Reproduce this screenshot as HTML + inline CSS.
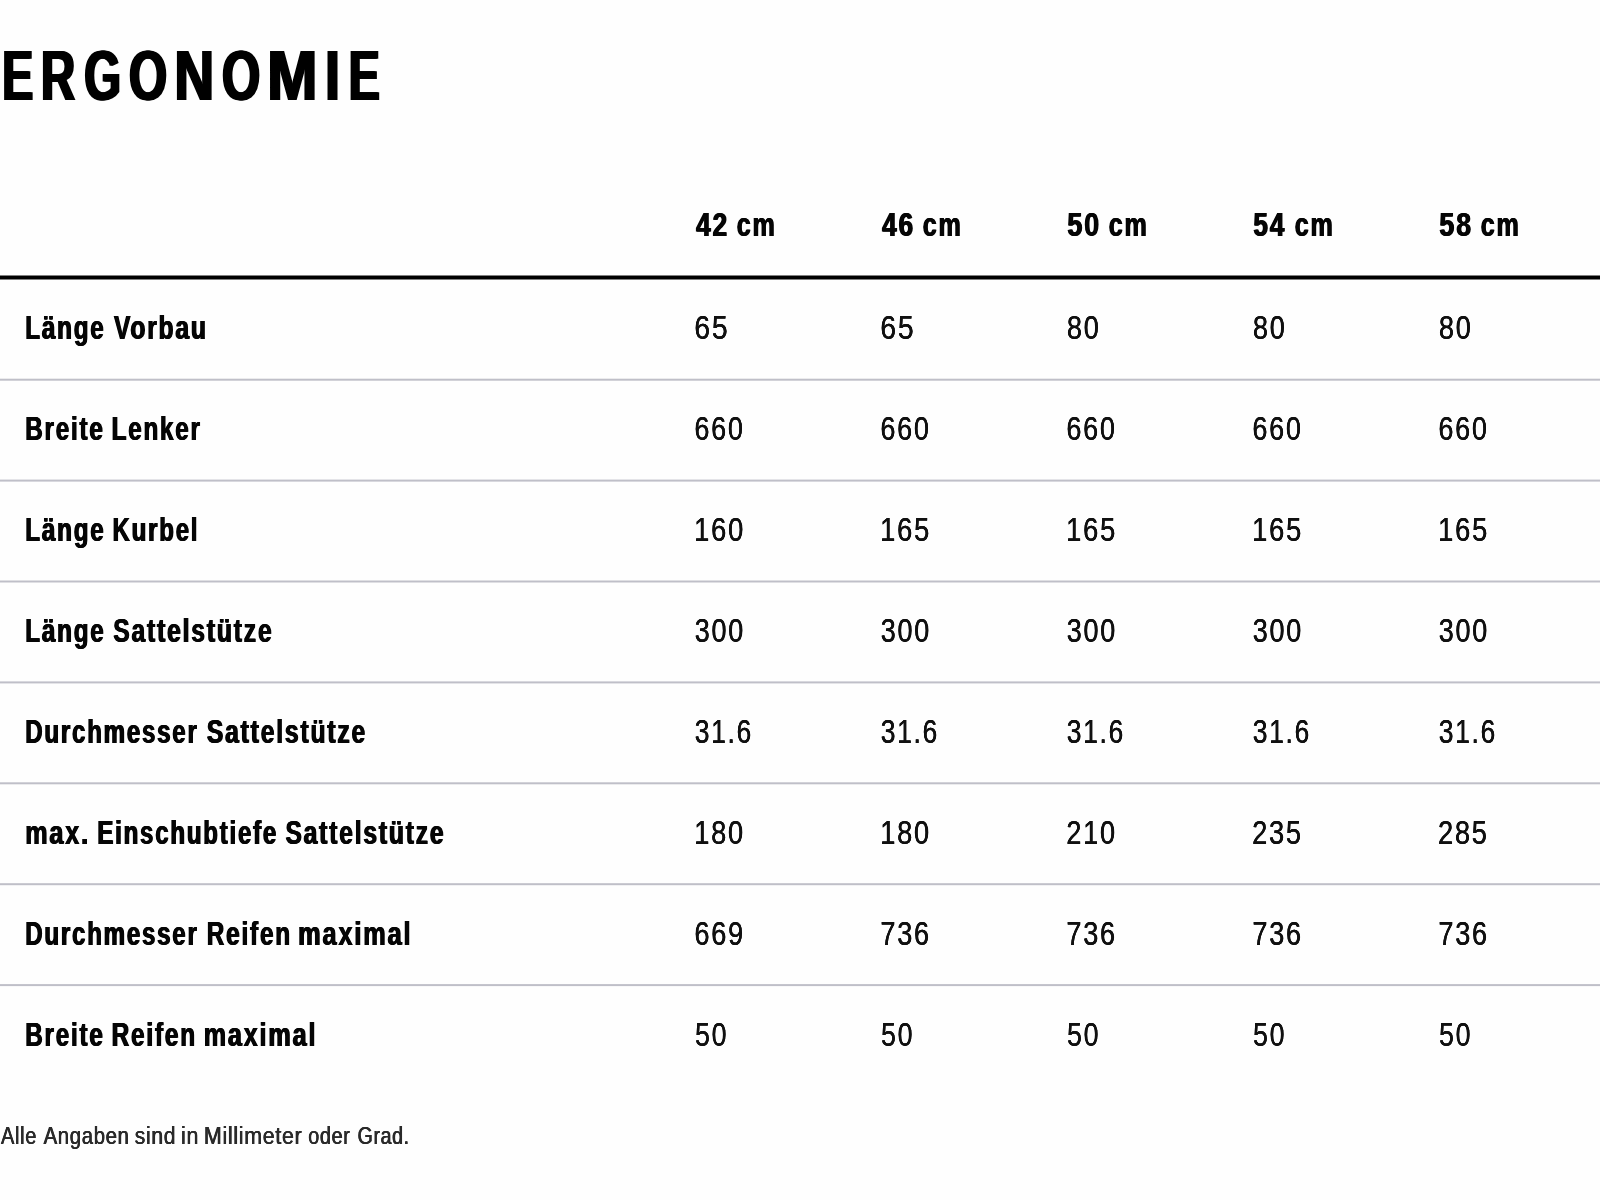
<!DOCTYPE html>
<html lang="de"><head><meta charset="utf-8"><title>Ergonomie</title>
<style>
html,body{margin:0;padding:0;background:#fff;}
body{width:1600px;height:1200px;overflow:hidden;position:relative;font-family:"Liberation Sans",sans-serif;}
svg{position:absolute;left:0;top:0;display:block;will-change:transform}
text{font-family:"Liberation Sans",sans-serif;}
.b{font-weight:700}
.r{font-weight:400}
</style></head><body>
<svg width="1600" height="1200" viewBox="0 0 1600 1200" role="img" aria-label="Ergonomie Tabelle">
<rect x="0" y="0" width="1600" height="1200" fill="#fefefe"/>
<rect x="0" y="275.5" width="1600" height="4" fill="#000"/>
<rect x="0" y="378.7" width="1600" height="2" fill="#bfbfc8"/>
<rect x="0" y="479.6" width="1600" height="2" fill="#bfbfc8"/>
<rect x="0" y="580.5" width="1600" height="2" fill="#bfbfc8"/>
<rect x="0" y="681.4" width="1600" height="2" fill="#bfbfc8"/>
<rect x="0" y="782.3" width="1600" height="2" fill="#bfbfc8"/>
<rect x="0" y="883.2" width="1600" height="2" fill="#bfbfc8"/>
<rect x="0" y="984.1" width="1600" height="2" fill="#bfbfc8"/>
<text id="h1" class="b" y="100.25" font-size="71.2" fill="#000"><tspan x="2.14" textLength="30.98" lengthAdjust="spacingAndGlyphs">E</tspan><tspan x="41.08" textLength="34.22" lengthAdjust="spacingAndGlyphs">R</tspan><tspan x="84.29" textLength="36.76" lengthAdjust="spacingAndGlyphs">G</tspan><tspan x="128.97" textLength="38.12" lengthAdjust="spacingAndGlyphs">O</tspan><tspan x="174.48" textLength="39.57" lengthAdjust="spacingAndGlyphs">N</tspan><tspan x="222.01" textLength="38.23" lengthAdjust="spacingAndGlyphs">O</tspan><tspan x="267.22" textLength="50.18" lengthAdjust="spacingAndGlyphs">M</tspan><tspan x="325.25" textLength="14.50" lengthAdjust="spacingAndGlyphs">I</tspan><tspan x="348.74" textLength="31.04" lengthAdjust="spacingAndGlyphs">E</tspan></text><use href="#h1" x="-1.25"/><use href="#h1" x="1.25"/>
<text id="hd0" class="b" y="236.40" font-size="33.8" fill="#050505" letter-spacing="2.5"><tspan x="696.15" textLength="32.95" lengthAdjust="spacingAndGlyphs">42</tspan> <tspan x="736.72" textLength="40.00" lengthAdjust="spacingAndGlyphs">cm</tspan></text><use href="#hd0" x="-0.55"/><use href="#hd0" x="0.55"/>
<text id="hd1" class="b" y="236.40" font-size="33.8" fill="#050505" letter-spacing="2.5"><tspan x="882.15" textLength="32.92" lengthAdjust="spacingAndGlyphs">46</tspan> <tspan x="922.72" textLength="40.00" lengthAdjust="spacingAndGlyphs">cm</tspan></text><use href="#hd1" x="-0.55"/><use href="#hd1" x="0.55"/>
<text id="hd2" class="b" y="236.40" font-size="33.8" fill="#050505" letter-spacing="2.5"><tspan x="1067.41" textLength="33.77" lengthAdjust="spacingAndGlyphs">50</tspan> <tspan x="1108.72" textLength="40.00" lengthAdjust="spacingAndGlyphs">cm</tspan></text><use href="#hd2" x="-0.55"/><use href="#hd2" x="0.55"/>
<text id="hd3" class="b" y="236.40" font-size="33.8" fill="#050505" letter-spacing="2.5"><tspan x="1253.43" textLength="32.83" lengthAdjust="spacingAndGlyphs">54</tspan> <tspan x="1294.72" textLength="40.00" lengthAdjust="spacingAndGlyphs">cm</tspan></text><use href="#hd3" x="-0.55"/><use href="#hd3" x="0.55"/>
<text id="hd4" class="b" y="236.40" font-size="33.8" fill="#050505" letter-spacing="2.5"><tspan x="1439.41" textLength="33.66" lengthAdjust="spacingAndGlyphs">58</tspan> <tspan x="1480.72" textLength="40.00" lengthAdjust="spacingAndGlyphs">cm</tspan></text><use href="#hd4" x="-0.55"/><use href="#hd4" x="0.55"/>
<text id="lb0" class="b" y="339.40" font-size="33.8" fill="#050505" letter-spacing="2.5"><tspan x="25.24" textLength="80.30" lengthAdjust="spacingAndGlyphs">Länge</tspan> <tspan x="113.96" textLength="93.77" lengthAdjust="spacingAndGlyphs">Vorbau</tspan></text><use href="#lb0" x="-0.55"/><use href="#lb0" x="0.55"/>
<text id="v0_0" class="r" x="694.34" y="339.40" font-size="34.0" fill="#101010" letter-spacing="2.2" textLength="35.13" lengthAdjust="spacingAndGlyphs">65</text><use href="#v0_0" x="-0.2"/><use href="#v0_0" x="0.2"/>
<text id="v0_1" class="r" x="880.34" y="339.40" font-size="34.0" fill="#101010" letter-spacing="2.2" textLength="35.13" lengthAdjust="spacingAndGlyphs">65</text><use href="#v0_1" x="-0.2"/><use href="#v0_1" x="0.2"/>
<text id="v0_2" class="r" x="1066.91" y="339.40" font-size="34.0" fill="#101010" letter-spacing="2.2" textLength="33.64" lengthAdjust="spacingAndGlyphs">80</text><use href="#v0_2" x="-0.2"/><use href="#v0_2" x="0.2"/>
<text id="v0_3" class="r" x="1252.91" y="339.40" font-size="34.0" fill="#101010" letter-spacing="2.2" textLength="33.64" lengthAdjust="spacingAndGlyphs">80</text><use href="#v0_3" x="-0.2"/><use href="#v0_3" x="0.2"/>
<text id="v0_4" class="r" x="1438.91" y="339.40" font-size="34.0" fill="#101010" letter-spacing="2.2" textLength="33.64" lengthAdjust="spacingAndGlyphs">80</text><use href="#v0_4" x="-0.2"/><use href="#v0_4" x="0.2"/>
<text id="lb1" class="b" y="440.30" font-size="33.8" fill="#050505" letter-spacing="2.5"><tspan x="25.24" textLength="79.37" lengthAdjust="spacingAndGlyphs">Breite</tspan> <tspan x="111.64" textLength="90.16" lengthAdjust="spacingAndGlyphs">Lenker</tspan></text><use href="#lb1" x="-0.55"/><use href="#lb1" x="0.55"/>
<text id="v1_0" class="r" x="694.41" y="440.30" font-size="34.0" fill="#101010" letter-spacing="2.2" textLength="50.27" lengthAdjust="spacingAndGlyphs">660</text><use href="#v1_0" x="-0.2"/><use href="#v1_0" x="0.2"/>
<text id="v1_1" class="r" x="880.41" y="440.30" font-size="34.0" fill="#101010" letter-spacing="2.2" textLength="50.27" lengthAdjust="spacingAndGlyphs">660</text><use href="#v1_1" x="-0.2"/><use href="#v1_1" x="0.2"/>
<text id="v1_2" class="r" x="1066.41" y="440.30" font-size="34.0" fill="#101010" letter-spacing="2.2" textLength="50.27" lengthAdjust="spacingAndGlyphs">660</text><use href="#v1_2" x="-0.2"/><use href="#v1_2" x="0.2"/>
<text id="v1_3" class="r" x="1252.41" y="440.30" font-size="34.0" fill="#101010" letter-spacing="2.2" textLength="50.27" lengthAdjust="spacingAndGlyphs">660</text><use href="#v1_3" x="-0.2"/><use href="#v1_3" x="0.2"/>
<text id="v1_4" class="r" x="1438.41" y="440.30" font-size="34.0" fill="#101010" letter-spacing="2.2" textLength="50.27" lengthAdjust="spacingAndGlyphs">660</text><use href="#v1_4" x="-0.2"/><use href="#v1_4" x="0.2"/>
<text id="lb2" class="b" y="541.20" font-size="33.8" fill="#050505" letter-spacing="2.5"><tspan x="25.24" textLength="80.30" lengthAdjust="spacingAndGlyphs">Länge</tspan> <tspan x="112.55" textLength="86.73" lengthAdjust="spacingAndGlyphs">Kurbel</tspan></text><use href="#lb2" x="-0.55"/><use href="#lb2" x="0.55"/>
<text id="v2_0" class="r" x="694.08" y="541.20" font-size="34.0" fill="#101010" letter-spacing="2.2" textLength="51.04" lengthAdjust="spacingAndGlyphs">160</text><use href="#v2_0" x="-0.2"/><use href="#v2_0" x="0.2"/>
<text id="v2_1" class="r" x="880.08" y="541.20" font-size="34.0" fill="#101010" letter-spacing="2.2" textLength="51.06" lengthAdjust="spacingAndGlyphs">165</text><use href="#v2_1" x="-0.2"/><use href="#v2_1" x="0.2"/>
<text id="v2_2" class="r" x="1066.08" y="541.20" font-size="34.0" fill="#101010" letter-spacing="2.2" textLength="51.06" lengthAdjust="spacingAndGlyphs">165</text><use href="#v2_2" x="-0.2"/><use href="#v2_2" x="0.2"/>
<text id="v2_3" class="r" x="1252.08" y="541.20" font-size="34.0" fill="#101010" letter-spacing="2.2" textLength="51.06" lengthAdjust="spacingAndGlyphs">165</text><use href="#v2_3" x="-0.2"/><use href="#v2_3" x="0.2"/>
<text id="v2_4" class="r" x="1438.08" y="541.20" font-size="34.0" fill="#101010" letter-spacing="2.2" textLength="51.06" lengthAdjust="spacingAndGlyphs">165</text><use href="#v2_4" x="-0.2"/><use href="#v2_4" x="0.2"/>
<text id="lb3" class="b" y="642.10" font-size="33.8" fill="#050505" letter-spacing="2.5"><tspan x="25.24" textLength="80.30" lengthAdjust="spacingAndGlyphs">Länge</tspan> <tspan x="113.25" textLength="160.23" lengthAdjust="spacingAndGlyphs">Sattelstütze</tspan></text><use href="#lb3" x="-0.55"/><use href="#lb3" x="0.55"/>
<text id="v3_0" class="r" x="694.81" y="642.10" font-size="34.0" fill="#101010" letter-spacing="2.2" textLength="50.16" lengthAdjust="spacingAndGlyphs">300</text><use href="#v3_0" x="-0.2"/><use href="#v3_0" x="0.2"/>
<text id="v3_1" class="r" x="880.81" y="642.10" font-size="34.0" fill="#101010" letter-spacing="2.2" textLength="50.16" lengthAdjust="spacingAndGlyphs">300</text><use href="#v3_1" x="-0.2"/><use href="#v3_1" x="0.2"/>
<text id="v3_2" class="r" x="1066.81" y="642.10" font-size="34.0" fill="#101010" letter-spacing="2.2" textLength="50.16" lengthAdjust="spacingAndGlyphs">300</text><use href="#v3_2" x="-0.2"/><use href="#v3_2" x="0.2"/>
<text id="v3_3" class="r" x="1252.81" y="642.10" font-size="34.0" fill="#101010" letter-spacing="2.2" textLength="50.16" lengthAdjust="spacingAndGlyphs">300</text><use href="#v3_3" x="-0.2"/><use href="#v3_3" x="0.2"/>
<text id="v3_4" class="r" x="1438.81" y="642.10" font-size="34.0" fill="#101010" letter-spacing="2.2" textLength="50.16" lengthAdjust="spacingAndGlyphs">300</text><use href="#v3_4" x="-0.2"/><use href="#v3_4" x="0.2"/>
<text id="lb4" class="b" y="743.00" font-size="33.8" fill="#050505" letter-spacing="2.5"><tspan x="25.25" textLength="173.39" lengthAdjust="spacingAndGlyphs">Durchmesser</tspan> <tspan x="206.85" textLength="160.23" lengthAdjust="spacingAndGlyphs">Sattelstütze</tspan></text><use href="#lb4" x="-0.55"/><use href="#lb4" x="0.55"/>
<text id="v4_0" class="r" x="694.73" y="743.00" font-size="34.0" fill="#101010" letter-spacing="2.2" textLength="58.27" lengthAdjust="spacingAndGlyphs">31.6</text><use href="#v4_0" x="-0.2"/><use href="#v4_0" x="0.2"/>
<text id="v4_1" class="r" x="880.73" y="743.00" font-size="34.0" fill="#101010" letter-spacing="2.2" textLength="58.27" lengthAdjust="spacingAndGlyphs">31.6</text><use href="#v4_1" x="-0.2"/><use href="#v4_1" x="0.2"/>
<text id="v4_2" class="r" x="1066.73" y="743.00" font-size="34.0" fill="#101010" letter-spacing="2.2" textLength="58.27" lengthAdjust="spacingAndGlyphs">31.6</text><use href="#v4_2" x="-0.2"/><use href="#v4_2" x="0.2"/>
<text id="v4_3" class="r" x="1252.73" y="743.00" font-size="34.0" fill="#101010" letter-spacing="2.2" textLength="58.27" lengthAdjust="spacingAndGlyphs">31.6</text><use href="#v4_3" x="-0.2"/><use href="#v4_3" x="0.2"/>
<text id="v4_4" class="r" x="1438.73" y="743.00" font-size="34.0" fill="#101010" letter-spacing="2.2" textLength="58.27" lengthAdjust="spacingAndGlyphs">31.6</text><use href="#v4_4" x="-0.2"/><use href="#v4_4" x="0.2"/>
<text id="lb5" class="b" y="843.90" font-size="33.8" fill="#050505" letter-spacing="2.5"><tspan x="25.19" textLength="64.81" lengthAdjust="spacingAndGlyphs">max.</tspan> <tspan x="97.35" textLength="180.73" lengthAdjust="spacingAndGlyphs">Einschubtiefe</tspan> <tspan x="285.45" textLength="159.93" lengthAdjust="spacingAndGlyphs">Sattelstütze</tspan></text><use href="#lb5" x="-0.55"/><use href="#lb5" x="0.55"/>
<text id="v5_0" class="r" x="694.30" y="843.90" font-size="34.0" fill="#101010" letter-spacing="2.2" textLength="50.60" lengthAdjust="spacingAndGlyphs">180</text><use href="#v5_0" x="-0.2"/><use href="#v5_0" x="0.2"/>
<text id="v5_1" class="r" x="880.30" y="843.90" font-size="34.0" fill="#101010" letter-spacing="2.2" textLength="50.60" lengthAdjust="spacingAndGlyphs">180</text><use href="#v5_1" x="-0.2"/><use href="#v5_1" x="0.2"/>
<text id="v5_2" class="r" x="1066.33" y="843.90" font-size="34.0" fill="#101010" letter-spacing="2.2" textLength="50.46" lengthAdjust="spacingAndGlyphs">210</text><use href="#v5_2" x="-0.2"/><use href="#v5_2" x="0.2"/>
<text id="v5_3" class="r" x="1252.13" y="843.90" font-size="34.0" fill="#101010" letter-spacing="2.2" textLength="50.69" lengthAdjust="spacingAndGlyphs">235</text><use href="#v5_3" x="-0.2"/><use href="#v5_3" x="0.2"/>
<text id="v5_4" class="r" x="1438.03" y="843.90" font-size="34.0" fill="#101010" letter-spacing="2.2" textLength="50.69" lengthAdjust="spacingAndGlyphs">285</text><use href="#v5_4" x="-0.2"/><use href="#v5_4" x="0.2"/>
<text id="lb6" class="b" y="944.80" font-size="33.8" fill="#050505" letter-spacing="2.5"><tspan x="25.25" textLength="173.39" lengthAdjust="spacingAndGlyphs">Durchmesser</tspan> <tspan x="206.73" textLength="85.26" lengthAdjust="spacingAndGlyphs">Reifen</tspan> <tspan x="298.18" textLength="114.23" lengthAdjust="spacingAndGlyphs">maximal</tspan></text><use href="#lb6" x="-0.55"/><use href="#lb6" x="0.55"/>
<text id="v6_0" class="r" x="694.40" y="944.80" font-size="34.0" fill="#101010" letter-spacing="2.2" textLength="50.54" lengthAdjust="spacingAndGlyphs">669</text><use href="#v6_0" x="-0.2"/><use href="#v6_0" x="0.2"/>
<text id="v6_1" class="r" x="880.41" y="944.80" font-size="34.0" fill="#101010" letter-spacing="2.2" textLength="50.42" lengthAdjust="spacingAndGlyphs">736</text><use href="#v6_1" x="-0.2"/><use href="#v6_1" x="0.2"/>
<text id="v6_2" class="r" x="1066.41" y="944.80" font-size="34.0" fill="#101010" letter-spacing="2.2" textLength="50.42" lengthAdjust="spacingAndGlyphs">736</text><use href="#v6_2" x="-0.2"/><use href="#v6_2" x="0.2"/>
<text id="v6_3" class="r" x="1252.41" y="944.80" font-size="34.0" fill="#101010" letter-spacing="2.2" textLength="50.42" lengthAdjust="spacingAndGlyphs">736</text><use href="#v6_3" x="-0.2"/><use href="#v6_3" x="0.2"/>
<text id="v6_4" class="r" x="1438.41" y="944.80" font-size="34.0" fill="#101010" letter-spacing="2.2" textLength="50.42" lengthAdjust="spacingAndGlyphs">736</text><use href="#v6_4" x="-0.2"/><use href="#v6_4" x="0.2"/>
<text id="lb7" class="b" y="1045.70" font-size="33.8" fill="#050505" letter-spacing="2.5"><tspan x="25.24" textLength="79.37" lengthAdjust="spacingAndGlyphs">Breite</tspan> <tspan x="111.63" textLength="85.26" lengthAdjust="spacingAndGlyphs">Reifen</tspan> <tspan x="203.69" textLength="113.60" lengthAdjust="spacingAndGlyphs">maximal</tspan></text><use href="#lb7" x="-0.55"/><use href="#lb7" x="0.55"/>
<text id="v7_0" class="r" x="695.10" y="1045.70" font-size="34.0" fill="#101010" letter-spacing="2.2" textLength="33.11" lengthAdjust="spacingAndGlyphs">50</text><use href="#v7_0" x="-0.2"/><use href="#v7_0" x="0.2"/>
<text id="v7_1" class="r" x="881.10" y="1045.70" font-size="34.0" fill="#101010" letter-spacing="2.2" textLength="33.11" lengthAdjust="spacingAndGlyphs">50</text><use href="#v7_1" x="-0.2"/><use href="#v7_1" x="0.2"/>
<text id="v7_2" class="r" x="1067.10" y="1045.70" font-size="34.0" fill="#101010" letter-spacing="2.2" textLength="33.11" lengthAdjust="spacingAndGlyphs">50</text><use href="#v7_2" x="-0.2"/><use href="#v7_2" x="0.2"/>
<text id="v7_3" class="r" x="1253.10" y="1045.70" font-size="34.0" fill="#101010" letter-spacing="2.2" textLength="33.11" lengthAdjust="spacingAndGlyphs">50</text><use href="#v7_3" x="-0.2"/><use href="#v7_3" x="0.2"/>
<text id="v7_4" class="r" x="1439.10" y="1045.70" font-size="34.0" fill="#101010" letter-spacing="2.2" textLength="33.11" lengthAdjust="spacingAndGlyphs">50</text><use href="#v7_4" x="-0.2"/><use href="#v7_4" x="0.2"/>
<text id="ft" class="r" y="1144.30" font-size="24.2" fill="#2a2a2a" letter-spacing="0.8"><tspan x="0.98" textLength="36.08" lengthAdjust="spacingAndGlyphs">Alle</tspan> <tspan x="43.63" textLength="85.91" lengthAdjust="spacingAndGlyphs">Angaben</tspan> <tspan x="134.76" textLength="41.47" lengthAdjust="spacingAndGlyphs">sind</tspan> <tspan x="181.03" textLength="18.10" lengthAdjust="spacingAndGlyphs">in</tspan> <tspan x="203.93" textLength="98.52" lengthAdjust="spacingAndGlyphs">Millimeter</tspan> <tspan x="308.26" textLength="42.25" lengthAdjust="spacingAndGlyphs">oder</tspan> <tspan x="357.62" textLength="52.09" lengthAdjust="spacingAndGlyphs">Grad.</tspan></text><use href="#ft" x="-0.3"/><use href="#ft" x="0.3"/>
</svg>
</body></html>
